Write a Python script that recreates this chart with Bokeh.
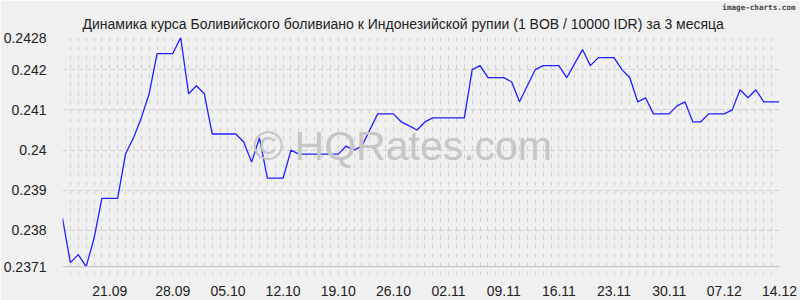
from bokeh.plotting import figure
from bokeh.models import Range1d, FixedTicker, Label, Span, Title
from bokeh.embed import file_html
from bokeh.resources import INLINE

title_text = "Динамика курса Боливийского боливиано к Индонезийской рупии (1 BOB / 10000 IDR) за 3 месяца"

# day index 0 = 14.09, 91 = 14.12
days = list(range(92))
rates = [
    0.2383, 0.2372, 0.2374, 0.2371, 0.2378, 0.2388, 0.2388, 0.2388, 0.2399, 0.2403,
    0.2408, 0.2414, 0.2424, 0.2424, 0.2424, 0.2428, 0.2414, 0.2416, 0.2414, 0.2404,
    0.2404, 0.2404, 0.2404, 0.2402, 0.2397, 0.2403, 0.2393, 0.2393, 0.2393, 0.2400,
    0.2399, 0.2399, 0.2399, 0.2399, 0.2399, 0.2399, 0.2401, 0.2400, 0.2401, 0.2405,
    0.2409, 0.2409, 0.2409, 0.2407, 0.2406, 0.2405, 0.2407, 0.2408, 0.2408, 0.2408,
    0.2408, 0.2408, 0.2420, 0.2421, 0.2418, 0.2418, 0.2418, 0.2417, 0.2412, 0.2416,
    0.2420, 0.2421, 0.2421, 0.2421, 0.2418, 0.24215, 0.2425, 0.2421, 0.2423, 0.2423,
    0.2423, 0.2420, 0.2418, 0.2412, 0.2413, 0.2409, 0.2409, 0.2409, 0.2411, 0.2412,
    0.2407, 0.2407, 0.2409, 0.2409, 0.2409, 0.2410, 0.2415, 0.2413, 0.2415, 0.2412,
    0.2412, 0.2412,
]

x_tick_pos = [6, 14, 21, 28, 35, 42, 49, 56, 63, 70, 77, 84, 91]
x_tick_labels = ["21.09", "28.09", "05.10", "12.10", "19.10", "26.10", "02.11",
                 "09.11", "16.11", "23.11", "30.11", "07.12", "14.12"]
y_ticks = [0.2371, 0.238, 0.239, 0.24, 0.241, 0.242, 0.2428]
y_tick_labels = ["0.2371", "0.238", "0.239", "0.24", "0.241", "0.242", "0.2428"]

BG = "#f0f0f0"
FONT = "Liberation Sans"

p = figure(width=800, height=300, output_backend="svg", toolbar_location=None, title=None,
           x_range=Range1d(0, 91), y_range=Range1d(0.23688, 0.2428),
           min_border_left=59, min_border_right=21, min_border_top=37, min_border_bottom=25,
           background_fill_color=BG, border_fill_color=BG, outline_line_color=None)

# title and credit: first entry of "above" sits next to the frame
main_title = Title(text=title_text, align="left", offset=20, text_font=FONT,
                   text_font_size="14px", text_font_style="normal", text_color="#222222",
                   standoff=11)
credit = Title(text="image-charts.com", align="right", offset=-16,
               text_font="DejaVu Sans Mono", text_font_size="7.6px", text_font_style="bold",
               text_color="#444444", standoff=-6)
p.add_layout(main_title, "above")
p.add_layout(credit, "above")

# axes
for ax in (p.xaxis[0], p.yaxis[0]):
    ax.axis_line_color = None
    ax.major_tick_line_color = None
    ax.minor_tick_line_color = None
    ax.major_label_text_font = FONT
    ax.major_label_text_font_size = "14px"
    ax.major_label_text_color = "#222222"

p.xaxis.ticker = FixedTicker(ticks=x_tick_pos)
p.xaxis.major_label_overrides = {t: l for t, l in zip(x_tick_pos, x_tick_labels)}
p.xaxis.major_label_standoff = 4
p.yaxis.ticker = FixedTicker(ticks=y_ticks)
p.yaxis.major_label_overrides = {t: l for t, l in zip(y_ticks, y_tick_labels)}
p.yaxis.major_label_standoff = 10

# grids
p.xgrid.ticker = FixedTicker(ticks=days)
p.xgrid.grid_line_color = "#cfcfcf"
p.xgrid.grid_line_dash = "4 5"
p.ygrid.ticker = FixedTicker(ticks=y_ticks[1:])
p.ygrid.grid_line_color = "#cfcfcf"
p.ygrid.grid_line_dash = "5 3"

p.add_layout(Span(location=y_ticks[0], dimension="width", line_color="#bdbdbd", line_width=1))

# watermark (screen units are relative to the plot frame)
p.add_layout(Label(x=340, y=130, x_units="screen", y_units="screen", text="© HQRates.com",
                   text_font=FONT, text_font_size="41px", text_color="#c6c6c6",
                   text_align="center", text_baseline="middle"))

p.line(days, rates, line_color="#1f1fff", line_width=1.3)

open("out.html", "w").write(file_html(p, INLINE))
